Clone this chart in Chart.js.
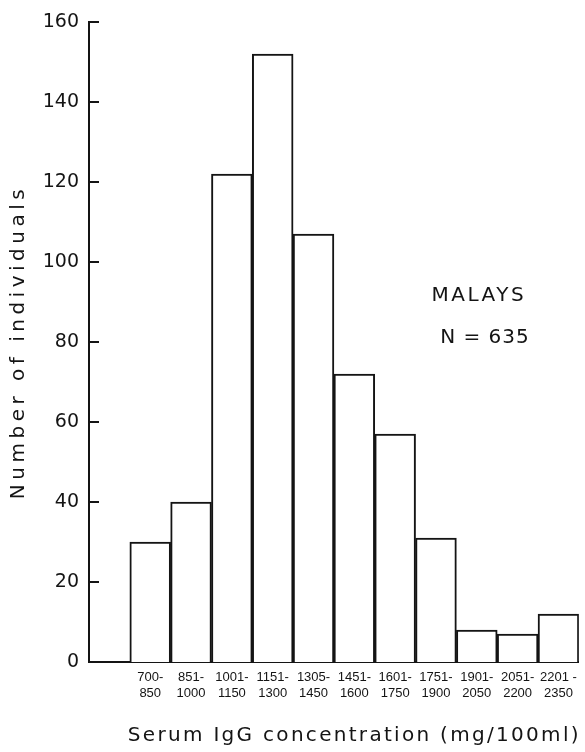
<!DOCTYPE html>
<html>
<head>
<meta charset="utf-8">
<script src="https://cdn.jsdelivr.net/npm/chart.js@4.4.1/dist/chart.umd.min.js"></script>
<style>
  html, body { margin: 0; padding: 0; background: #fff; }
  #wrap { width: 585px; height: 752px; position: relative; }
</style>
</head>
<body>
<div id="wrap"><canvas id="c" width="585" height="752"></canvas></div>
<script>
const categories = [
  ["", ""],
  ["700-", "850"], ["851-", "1000"], ["1001-", "1150"], ["1151-", "1300"],
  ["1305-", "1450"], ["1451-", "1600"], ["1601-", "1750"], ["1751-", "1900"],
  ["1901-", "2050"], ["2051-", "2200"], ["2201 -", "2350"]
];
const counts = [null, 30, 40, 122, 152, 107, 72, 57, 31, 8, 7, 12];
const yTicks = [0, 20, 40, 60, 80, 100, 120, 140, 160];
const groupLabel = "MALAYS";
const sampleLabel = "N = 635";
const xTitle = "Serum IgG concentration (mg/100ml)";
const yTitle = "Number of individuals";

const FONT = "'DejaVu Sans', sans-serif";
const INK = "#141414";

const decorations = {
  id: 'decorations',
  afterDraw(chart) {
    const ctx = chart.ctx;
    const y = chart.scales.y;
    const x = chart.scales.x;
    const area = chart.chartArea;
    ctx.save();
    ctx.strokeStyle = INK;
    ctx.lineWidth = 2;
    // inward tick marks on the y axis
    y.ticks.forEach(t => {
      if (t.value === 0) return;
      const py = y.getPixelForValue(t.value);
      ctx.beginPath();
      ctx.moveTo(area.left - 1, py);
      ctx.lineTo(area.left + 10, py);
      ctx.stroke();
    });
    ctx.fillStyle = INK;
    // annotation
    ctx.font = "20px " + FONT;
    ctx.textAlign = 'center';
    ctx.textBaseline = 'middle';
    ctx.letterSpacing = '2.5px';
    ctx.fillText(groupLabel, x.getPixelForValue(9.05), y.getPixelForValue(91.5));
    ctx.letterSpacing = '1px';
    ctx.fillText(sampleLabel, x.getPixelForValue(9.2), y.getPixelForValue(81));
    // x axis title
    ctx.font = "20px " + FONT;
    ctx.letterSpacing = '2.3px';
    ctx.textAlign = 'right';
    ctx.fillText(xTitle, area.right + 2, 736);
    // y axis title
    ctx.letterSpacing = '4.5px';
    ctx.translate(19, (area.top + area.bottom) / 2);
    ctx.rotate(-Math.PI / 2);
    ctx.textAlign = 'center';
    ctx.fillText(yTitle, 0, 0);
    ctx.restore();
  }
};

new Chart(document.getElementById('c'), {
  type: 'bar',
  data: {
    labels: categories,
    datasets: [{
      data: counts,
      backgroundColor: '#ffffff',
      borderColor: INK,
      borderWidth: 2,
      barPercentage: 1,
      categoryPercentage: 1,
      borderSkipped: 'bottom'
    }]
  },
  options: {
    responsive: false,
    animation: false,
    devicePixelRatio: 1,
    layout: { padding: { top: 22, right: 3, left: 0, bottom: 0 } },
    plugins: { legend: { display: false }, tooltip: { enabled: false } },
    scales: {
      x: {
        afterFit(scale) { scale.height = 90; },
        grid: { display: false, drawTicks: false },
        border: { display: true, color: INK, width: 2 },
        ticks: {
          color: INK, font: { family: "'Liberation Sans', sans-serif", size: 13, lineHeight: 1.2 },
          padding: 8, maxRotation: 0, autoSkip: false
        }
      },
      y: {
        min: 0, max: 160,
        afterBuildTicks(scale) { scale.ticks = yTicks.map(v => ({ value: v })); },
        afterFit(scale) { scale.width = 89; },
        grid: { display: false, drawTicks: false },
        border: { display: true, color: INK, width: 2 },
        ticks: { color: INK, font: { family: FONT, size: 19 }, padding: 10 }
      }
    }
  },
  plugins: [decorations]
});
</script>
</body>
</html>
